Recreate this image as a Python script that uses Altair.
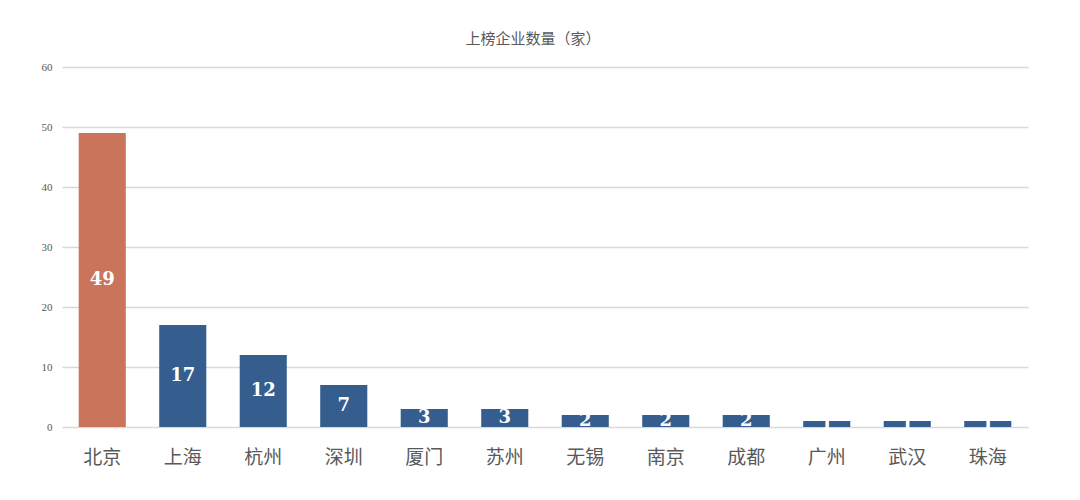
import altair as alt
import pandas as pd

cities = ["北京", "上海", "杭州", "深圳", "厦门", "苏州", "无锡", "南京", "成都", "广州", "武汉", "珠海"]
counts = [49, 17, 12, 7, 3, 3, 2, 2, 2, 1, 1, 1]
highlight = ["北京"]

df = pd.DataFrame({"city": cities, "count": counts})
df["half"] = df["count"] / 2
df["group"] = ["hi" if c in highlight else "lo" for c in cities]

x = alt.X("city:N", sort=cities, title=None,
          scale=alt.Scale(paddingInner=0.415, paddingOuter=0.2075),
          axis=alt.Axis(labelAngle=0, labelFontSize=19, labelColor="#595959",
                        labelFont="Noto Sans CJK SC", labelPadding=21,
                        ticks=False, domain=False))

bars = alt.Chart(df).mark_bar().encode(
    x=x,
    y=alt.Y("count:Q", title=None,
            scale=alt.Scale(domain=[0, 60]),
            axis=alt.Axis(values=[0, 10, 20, 30, 40, 50, 60], labelFontSize=11,
                          labelColor="#595959", labelFont="Liberation Serif",
                          labelPadding=10, ticks=False, domain=False,
                          gridColor="#d9d9d9", gridWidth=1.3)),
    color=alt.Color("group:N", legend=None,
                    scale=alt.Scale(domain=["hi", "lo"], range=["#CB745C", "#355E8E"])),
)

labels = alt.Chart(df).mark_text(
    color="white", fontSize=18, fontWeight="bold", font="DejaVu Serif",
    baseline="middle", align="center"
).encode(
    x=alt.X("city:N", sort=cities),
    y=alt.Y("half:Q"),
    text=alt.Text("count:Q"),
)

chart = (bars + labels).properties(
    width=966, height=360,
    title=alt.TitleParams("上榜企业数量（家）", fontSize=15, fontWeight="normal",
                          color="#595959", font="Noto Sans CJK SC", offset=14, dx=-12),
    autosize=alt.AutoSizeParams(type="none"),
    padding={"left": 54, "top": 59, "right": 44, "bottom": 65},
).configure_view(stroke=None)

chart.save("out.html", embed_options={"renderer": "svg", "actions": False})
